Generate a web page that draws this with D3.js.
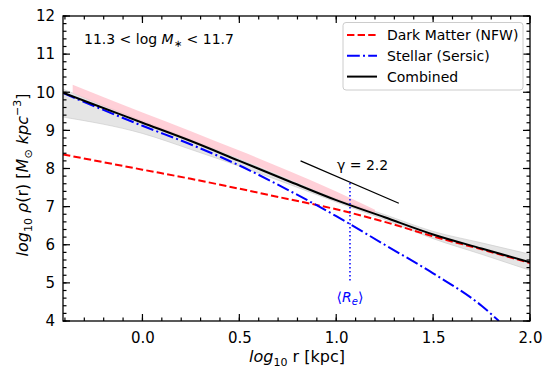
<!DOCTYPE html>
<html lang="en">
<head>
    <meta charset="UTF-8">
    <title>Density profile</title>
    <script src="https://d3js.org/d3.v7.min.js"></script>
    <style>
        body { margin: 0; background: #fff; }
        text { font-family: "DejaVu Sans", sans-serif; fill: #000; }
    </style>
</head>
<body>
    <script>
        // values (log10 r, log10 rho)
        const nfwX = [-0.41, 0.0, 0.25, 0.5, 0.75, 1.0, 1.25, 1.5, 1.75, 2.0];
        const nfwY = [8.37, 7.97, 7.73, 7.47, 7.2, 6.93, 6.6, 6.22, 5.88, 5.52];

        const sersicX = [-0.41, 0.0, 0.25, 0.5, 0.75, 1.0, 1.25, 1.5, 1.75, 1.84];
        const sersicY = [9.98, 9.12, 8.63, 8.08, 7.44, 6.75, 6.0, 5.25, 4.4, 4.0];

        const combX = [-0.41, -0.25, 0.0, 0.25, 0.5, 0.75, 1.0, 1.25, 1.5, 1.75, 2.0];
        const combY = [9.99, 9.68, 9.2, 8.72, 8.2, 7.68, 7.17, 6.72, 6.27, 5.9, 5.54];

        const bandX = [-0.41, 0.0, 0.25, 0.5, 0.75, 1.0, 1.25, 1.5, 1.75, 2.0];
        const bandLo = [9.35, 8.92, 8.5, 8.06, 7.6, 7.12, 6.66, 6.16, 5.75, 5.33];
        const bandHi = [10.08, 9.25, 8.76, 8.25, 7.72, 7.21, 6.79, 6.35, 6.05, 5.75];

        const pinkX = [-0.36, 0.0, 0.25, 0.5, 0.75, 1.0, 1.2];
        const pinkLo = [9.98, 9.22, 8.75, 8.26, 7.73, 7.2, 6.82];
        const pinkHi = [10.2, 9.47, 8.98, 8.47, 7.95, 7.4, 6.92];

        const gammaX = [0.816, 1.323];
        const gammaY = [8.2, 7.09];
        const reX = 1.071;
        const reY = [7.62, 5.0];

        const xTicks = [0.0, 0.5, 1.0, 1.5, 2.0];
        const yTicks = [4, 5, 6, 7, 8, 9, 10, 11, 12];

        const W = 550, H = 371;
        const mLeft = 63, mRight = 530, mTop = 16, mBottom = 321;

        const x = d3.scaleLinear().domain([-0.41, 2.0]).range([mLeft, mRight]);
        const y = d3.scaleLinear().domain([4, 12]).range([mBottom, mTop]);

        const svg = d3.select("body").append("svg")
            .attr("width", W)
            .attr("height", H);

        svg.append("clipPath").attr("id", "plot")
            .append("rect")
            .attr("x", mLeft).attr("y", mTop)
            .attr("width", mRight - mLeft).attr("height", mBottom - mTop);

        const g = svg.append("g").attr("clip-path", "url(#plot)");

        const zip = (xs, ys) => xs.map((d, i) => [d, ys[i]]);
        const line = d3.line().x(d => x(d[0])).y(d => y(d[1])).curve(d3.curveMonotoneX);
        const area = d3.area()
            .x(d => x(d.x)).y0(d => y(d.lo)).y1(d => y(d.hi))
            .curve(d3.curveMonotoneX);

        // uncertainty bands
        g.append("path")
            .datum(bandX.map((d, i) => ({x: d, lo: bandLo[i], hi: bandHi[i]})))
            .attr("d", area)
            .attr("fill", "#d3d3d3").attr("fill-opacity", 0.6)
            .attr("stroke", "#c8c8c8").attr("stroke-width", 0.6);

        g.append("path")
            .datum(pinkX.map((d, i) => ({x: d, lo: pinkLo[i], hi: pinkHi[i]})))
            .attr("d", area)
            .attr("fill", "pink").attr("fill-opacity", 0.75);

        g.append("path").datum(zip(nfwX, nfwY))
            .attr("d", line).attr("fill", "none")
            .attr("stroke", "red").attr("stroke-width", 2)
            .attr("stroke-dasharray", "7.4,3.2");

        g.append("path").datum(zip(sersicX, sersicY))
            .attr("d", line).attr("fill", "none")
            .attr("stroke", "blue").attr("stroke-width", 2)
            .attr("stroke-dasharray", "12.8,3.2,2,3.2");

        g.append("path").datum(zip(combX, combY))
            .attr("d", line).attr("fill", "none")
            .attr("stroke", "black").attr("stroke-width", 2);

        // gamma slope marker
        g.append("line")
            .attr("x1", x(gammaX[0])).attr("y1", y(gammaY[0]))
            .attr("x2", x(gammaX[1])).attr("y2", y(gammaY[1]))
            .attr("stroke", "black").attr("stroke-width", 1.2);

        svg.append("text").attr("x", 337).attr("y", 170)
            .style("font-size", "14px").text("γ = 2.2");

        // effective radius
        g.append("line")
            .attr("x1", x(reX)).attr("y1", y(reY[0]))
            .attr("x2", x(reX)).attr("y2", y(reY[1]))
            .attr("stroke", "blue").attr("stroke-width", 1.5)
            .attr("stroke-dasharray", "1.5,2.5");

        const re = svg.append("text").attr("x", x(reX)).attr("y", 302)
            .attr("text-anchor", "middle").style("font-size", "14px")
            .style("fill", "blue");
        re.append("tspan").style("fill", "blue").text("⟨");
        re.append("tspan").style("font-style", "italic").style("fill", "blue").text("R");
        re.append("tspan").attr("dy", 3).style("font-size", "10px")
            .style("font-style", "italic").style("fill", "blue").text("e");
        re.append("tspan").attr("dy", -3).style("fill", "blue").text("⟩");

        // frame and inward ticks on all four sides
        const minorX = d3.range(-0.4, 2.001, 0.1);
        const minorY = d3.range(4, 12.001, 0.2);

        const tg = svg.append("g").attr("stroke", "black").attr("stroke-width", 1.2);
        function xTickMarks(vals, len) {
            vals.forEach(v => {
                const px = x(v);
                tg.append("line").attr("x1", px).attr("x2", px)
                    .attr("y1", mBottom).attr("y2", mBottom - len);
                tg.append("line").attr("x1", px).attr("x2", px)
                    .attr("y1", mTop).attr("y2", mTop + len);
            });
        }
        function yTickMarks(vals, len) {
            vals.forEach(v => {
                const py = y(v);
                tg.append("line").attr("y1", py).attr("y2", py)
                    .attr("x1", mLeft).attr("x2", mLeft + len);
                tg.append("line").attr("y1", py).attr("y2", py)
                    .attr("x1", mRight).attr("x2", mRight - len);
            });
        }
        xTickMarks(minorX, 3.5);
        yTickMarks(minorY, 3.5);
        xTickMarks(xTicks, 7);
        yTickMarks(yTicks, 7);

        svg.append("rect")
            .attr("x", mLeft).attr("y", mTop)
            .attr("width", mRight - mLeft).attr("height", mBottom - mTop)
            .attr("fill", "none").attr("stroke", "black").attr("stroke-width", 1.3);

        // tick labels through d3 axes (tick lines hidden)
        const axB = svg.append("g").attr("transform", `translate(0,${mBottom})`)
            .call(d3.axisBottom(x).tickValues(xTicks).tickSize(0).tickPadding(11)
                .tickFormat(d3.format(".1f")));
        const axL = svg.append("g").attr("transform", `translate(${mLeft},0)`)
            .call(d3.axisLeft(y).tickValues(yTicks).tickSize(0).tickPadding(8)
                .tickFormat(d3.format("d")));
        svg.selectAll(".domain").remove();
        svg.selectAll(".tick text").style("font-size", "15px")
            .style("font-family", "'DejaVu Sans', sans-serif").attr("fill", "black");

        // axis titles
        const xl = svg.append("text").attr("x", 297).attr("y", 362)
            .attr("text-anchor", "middle").style("font-size", "16px");
        xl.append("tspan").style("font-style", "italic").text("log");
        xl.append("tspan").attr("dy", 4).style("font-size", "11px").text("10");
        xl.append("tspan").attr("dy", -4).text(" r [kpc]");

        const yl = svg.append("text")
            .attr("transform", "translate(28,175) rotate(-90)")
            .attr("text-anchor", "middle").style("font-size", "16px");
        yl.append("tspan").style("font-style", "italic").text("log");
        yl.append("tspan").attr("dy", 4).style("font-size", "11px").text("10");
        yl.append("tspan").attr("dy", -4).style("font-style", "italic").text(" ρ");
        yl.append("tspan").text("(r) [");
        yl.append("tspan").style("font-style", "italic").text("M");
        yl.append("tspan").attr("dy", 4).style("font-size", "11px").text("⊙");
        yl.append("tspan").attr("dy", -4).style("font-style", "italic").text("  kpc");
        yl.append("tspan").attr("dy", -7).style("font-size", "11px").text("−3");
        yl.append("tspan").attr("dy", 7).text("]");

        // mass bin annotation
        const ann = svg.append("text").attr("x", 84).attr("y", 44).style("font-size", "14px");
        ann.append("tspan").text("11.3 < log ");
        ann.append("tspan").style("font-style", "italic").text("M");
        ann.append("tspan").attr("dy", 3).style("font-size", "10px").text("∗");
        ann.append("tspan").attr("dy", -3).text(" < 11.7");

        // legend
        const lg = svg.append("g");
        lg.append("rect").attr("x", 343).attr("y", 22.5).attr("width", 180).attr("height", 67.5)
            .attr("rx", 3).attr("fill", "white").attr("fill-opacity", 0.8)
            .attr("stroke", "#cccccc").attr("stroke-width", 1);

        const legendItems = [
            {label: "Dark Matter (NFW)", color: "red", dash: "7.4,3.2"},
            {label: "Stellar (Sersic)", color: "blue", dash: "12.8,3.2,2,3.2"},
            {label: "Combined", color: "black", dash: null}
        ];
        legendItems.forEach((d, i) => {
            const yy = 35 + i * 20.8;
            lg.append("line").attr("x1", 347).attr("x2", 377)
                .attr("y1", yy).attr("y2", yy)
                .attr("stroke", d.color).attr("stroke-width", 2)
                .attr("stroke-dasharray", d.dash);
            lg.append("text").attr("x", 387).attr("y", yy + 5)
                .style("font-size", "14px").text(d.label);
        });
    </script>
</body>
</html>
